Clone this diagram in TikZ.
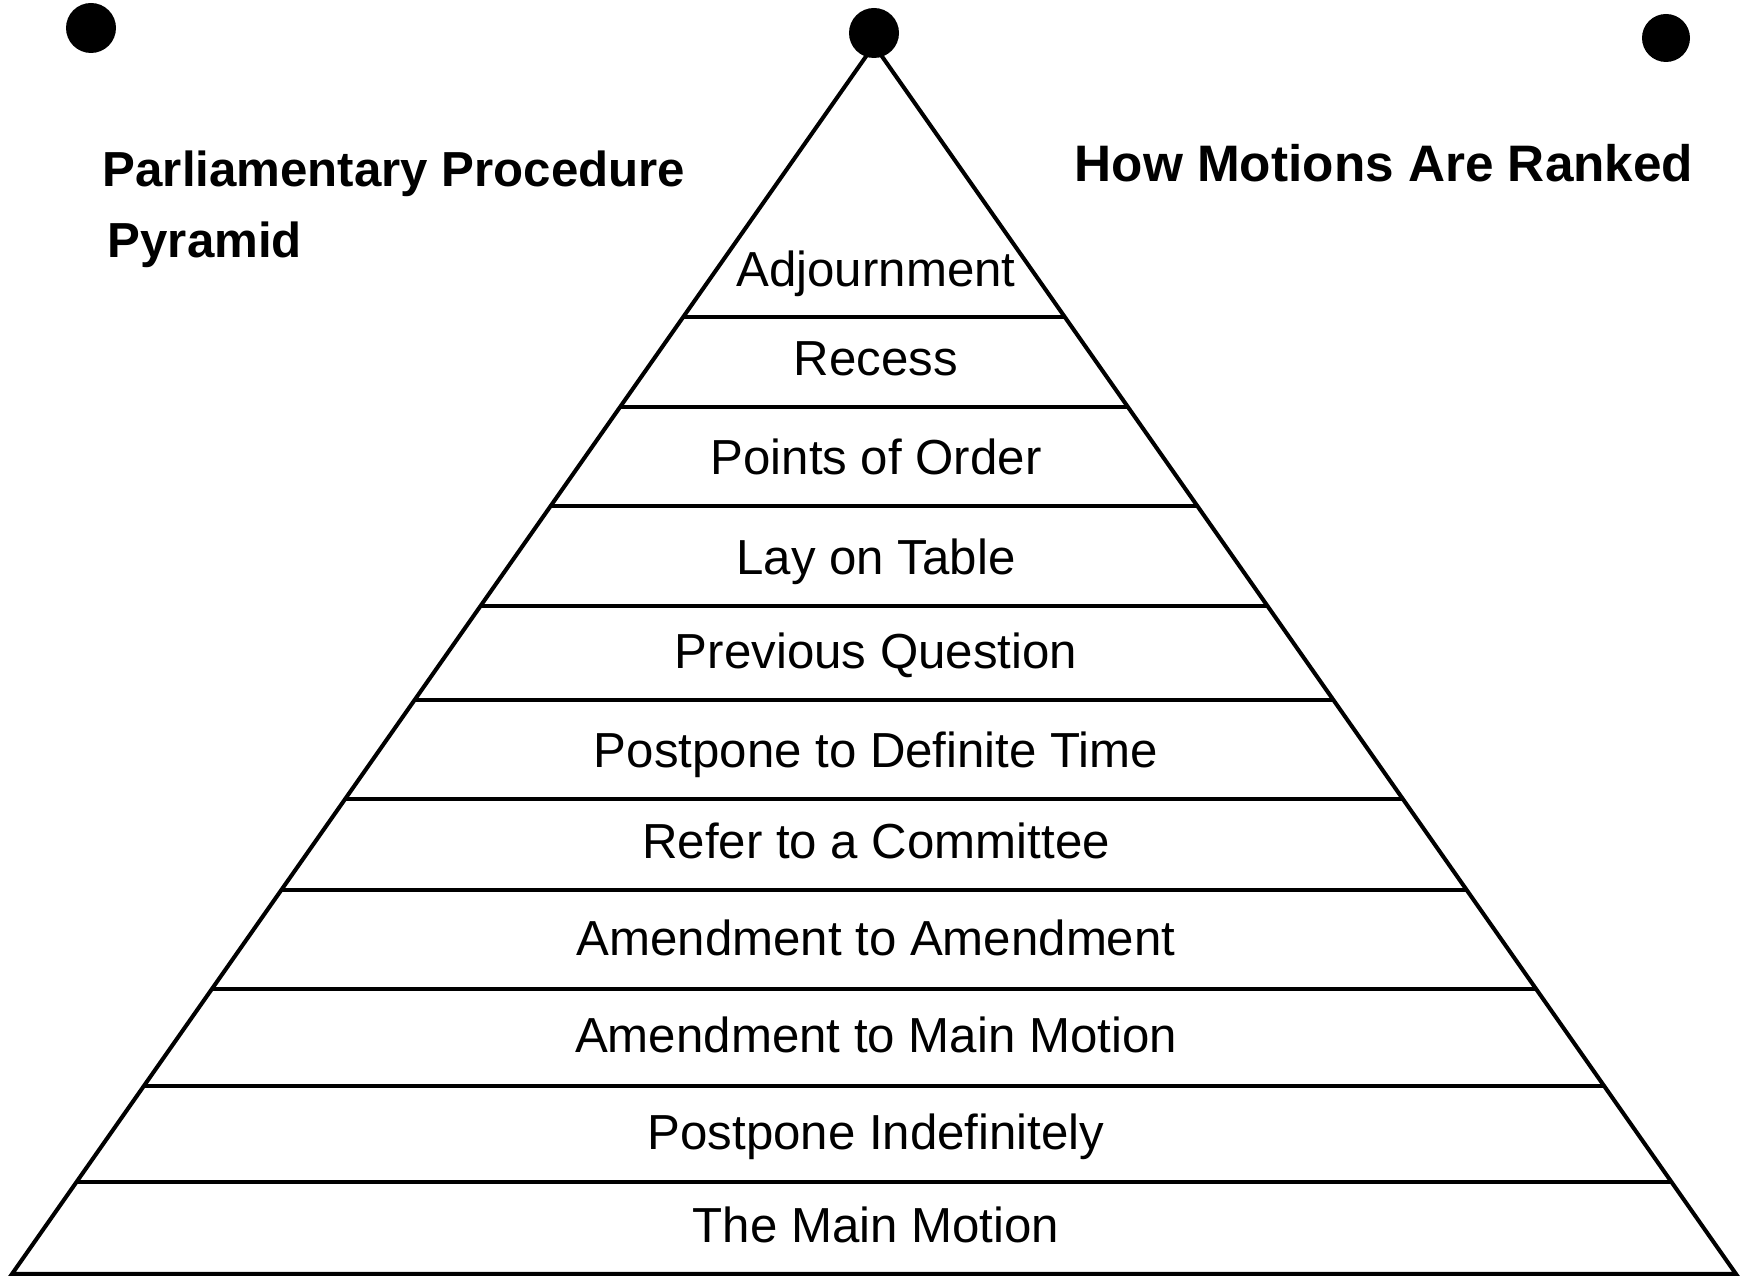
\documentclass[tikz,border=0pt]{standalone}
\usepackage{fontspec}
\setmainfont{Liberation Sans}
\usetikzlibrary{calc}

\begin{document}
\begin{tikzpicture}[x=0.1mm,y=-0.1mm,
    motion/.style={font=\fontsize{14}{17}\selectfont,anchor=base,inner sep=0pt},
    heading/.style={font=\bfseries\fontsize{14}{17}\selectfont,anchor=base west,inner sep=0pt},
    pin/.style={fill=black}]
  \useasboundingbox (0,0) rectangle (1744,1276);
  % pyramid outline
  \coordinate (apex) at (874,45);
  \coordinate (baseL) at (12,1274);
  \coordinate (baseR) at (1736,1274);
  \draw[line width=1.15pt] (apex) -- (baseL) -- (baseR) -- cycle;
  % rank dividers
  \foreach \y [count=\i] in {317,407,506,606,700,799,890,989,1086,1182}{
    \coordinate (divL\i) at ($(apex)!{(\y-45)/1229}!(baseL)$);
    \coordinate (divR\i) at ($(apex)!{(\y-45)/1229}!(baseR)$);
    \draw[line width=0.9pt] (divL\i) -- (divR\i);
  }
  % motions, highest rank first
  \foreach \y/\txt [count=\i] in {287/Adjournment,376/Recess,475/Points of Order,
      575/Lay on Table,669/Previous Question,768/Postpone to Definite Time,
      859/Refer to a Committee,956/Amendment to Amendment,
      1053/Amendment to Main Motion,1150/Postpone Indefinitely,1243/The Main Motion}
    \node[motion] (mot\i) at (876,\y) {\txt};
  % titles
  \node[heading] (title1) at (102,187) {Parliamentary Procedure};
  \node[heading] (title2) at (107,258) {Pyramid};
  \node[heading,font=\bfseries\fontsize{14.6}{17}\selectfont] (title3) at (1074,182) {How Motions Are Ranked};
  % punch holes
  \fill[pin] (91,28) circle[radius=2.5mm];
  \fill[pin] (874,33) circle[radius=2.5mm];
  \fill[pin] (1666,38) circle[radius=2.4mm];
\end{tikzpicture}
\end{document}
